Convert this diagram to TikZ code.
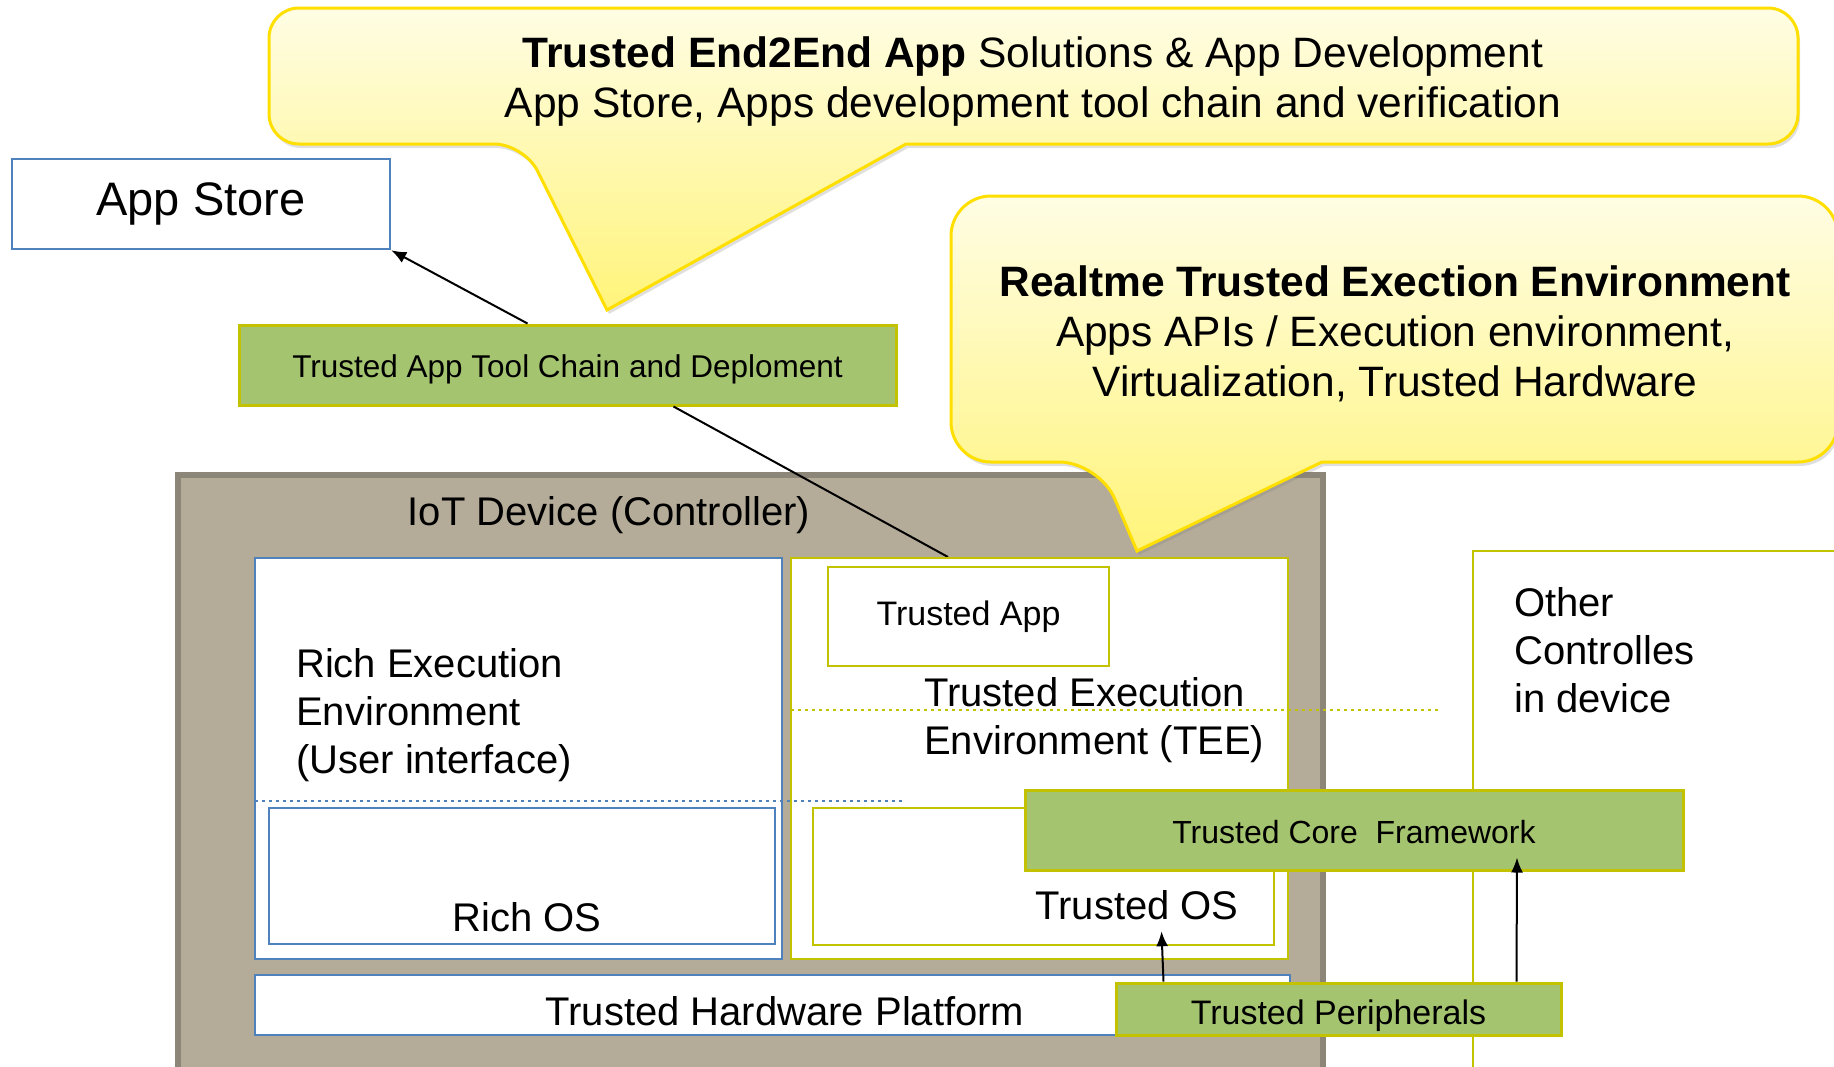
\documentclass[tikz,border=0pt]{standalone}
\usepackage{fontspec}
\setmainfont{Liberation Sans}
\usetikzlibrary{arrows.meta,shadows}

\definecolor{taupe}{HTML}{B4AC99}
\definecolor{taupedark}{HTML}{8B8677}
\definecolor{boxblue}{HTML}{4F81BD}
\definecolor{olive}{HTML}{C2C200}
\definecolor{leaf}{HTML}{A5C46F}
\definecolor{bubbletop}{HTML}{FFFDE4}
\definecolor{bubblebot}{HTML}{FFF47A}
\definecolor{bubbleline}{HTML}{FFDF00}

\begin{document}
\begin{tikzpicture}[x=1pt,y=-1pt]

% Box styles
\tikzset{
    frame/.style={draw=boxblue,line width=2.5pt,fill=white,inner sep=0pt},
    tframe/.style={draw=olive,line width=2.5pt,fill=white,inner sep=0pt},
    greenbox/.style={draw=olive,line width=3pt,fill=leaf,inner sep=0pt,text depth=0pt},
    bubble/.style={draw=bubbleline,line width=3pt,top color=bubbletop,bottom color=bubblebot,
        drop shadow={opacity=0.25,shadow xshift=2pt,shadow yshift=-4pt}},
    wire/.style={line width=2pt},
    lbl/.style={inner sep=0pt,align=left,font=\fontsize{40}{48}\selectfont},
    bubbletext/.style={inner sep=0pt,align=center,font=\fontsize{42.5}{50}\selectfont}
}

\path[use as bounding box,clip] (0,0) rectangle (1834,1066);

% Callout over the app layer
\path[bubble] (906,144) [rounded corners=30pt] -- (1798,144) -- (1798,8) -- (269,8)
    -- (269,144) -- (524,144) [sharp corners] -- (607,310) -- cycle;
\node[bubbletext] (b1) at (1033,82) {\textbf{Trusted End2End App} Solutions \& App Development\\
    App Store, Apps development tool chain and verification};

% Store and tool chain
\node[frame,minimum width=378pt,minimum height=90pt,font=\fontsize{47}{56}\selectfont] (store) at (201,204) {App Store};
\node[greenbox,minimum width=657pt,minimum height=80pt,text height=24.5pt,font=\fontsize{31.5}{38}\selectfont] (chain) at (567.5,365) {Trusted App Tool Chain and Deploment};
\draw[wire,-{Latex[length=15pt,width=12pt]}] ([xshift=-40pt]chain.north) -- (store.south east);

% Device
\node[draw=taupedark,line width=6pt,fill=taupe,minimum width=1145pt,minimum height=605pt] (iot) at (750.5,777.5) {};
\draw[wire] ([xshift=106pt]chain.south) -- (948,557);

% Callout over the TEE
\path[bubble] (1322,462) [rounded corners=40pt] -- (1838,462) -- (1838,196) -- (951,196)
    -- (951,462) -- (1099,462) [sharp corners] -- (1137,551) -- cycle;
\node[bubbletext] (b2) at (1395,334) {\textbf{Realtme Trusted Exection Environment}\\
    Apps APIs / Execution environment,\\Virtualization, Trusted Hardware};

% Execution environments
\node[frame,minimum width=527pt,minimum height=401pt] (ree) at (518.5,758.5) {};
\node[frame,minimum width=506pt,minimum height=136pt] (ros) at (522,876) {};
\node[tframe,minimum width=497pt,minimum height=401pt] (tee) at (1039.5,758.5) {};
\node[tframe,minimum width=281pt,minimum height=99pt,font=\fontsize{34}{40}\selectfont] (tapp) at (968.5,616.5) {Trusted App};
\node[tframe,minimum width=461pt,minimum height=137pt] (tos) at (1043.5,876.5) {};
\node[frame,minimum width=1035pt,minimum height=60pt] (thw) at (772.5,1005) {};
\node[tframe,minimum width=377pt,minimum height=529pt] (other) at (1661.5,815.5) {};

% Boundaries
\draw[boxblue,line width=2pt,dash pattern=on 3pt off 4pt] (255,801) -- (905,801);
\draw[olive,line width=2pt,dash pattern=on 3pt off 4pt] (791,710) -- (1441,710);

% Trusted blocks
\node[greenbox,minimum width=658pt,minimum height=80pt,text height=27pt,font=\fontsize{32}{38}\selectfont] (core) at (1354,830) {Trusted Core\ \ Framework};
\node[greenbox,minimum width=445pt,minimum height=52pt,text height=30pt,font=\fontsize{34}{40}\selectfont] (periph) at (1338.5,1009) {Trusted Peripherals};
\draw[wire,-{Latex[length=15pt,width=12pt]}] ([xshift=-175pt]periph.north) -- ([xshift=118pt,yshift=15pt]tos.south);
\draw[wire,-{Latex[length=15pt,width=12pt]}] ([xshift=178pt]periph.north) -- ([xshift=163pt,yshift=14pt]core.south);

% Labels
\node[lbl] (iotlbl) at (609,515) {IoT Device (Controller)};
\node[lbl,anchor=west] (reelbl) at (296,715) {Rich Execution\\Environment\\(User interface)};
\node[lbl] (roslbl) at (527,917) {Rich OS};
\node[lbl,anchor=west] (teelbl) at (924,720) {Trusted Execution\\Environment (TEE)};
\node[lbl] (toslbl) at (1137,905) {Trusted OS};
\node[lbl] (thwlbl) at (785,1011) {Trusted Hardware Platform};
\node[lbl,anchor=west] (otherlbl) at (1514,650) {Other\\Controlles\\in device};

\end{tikzpicture}
\end{document}
